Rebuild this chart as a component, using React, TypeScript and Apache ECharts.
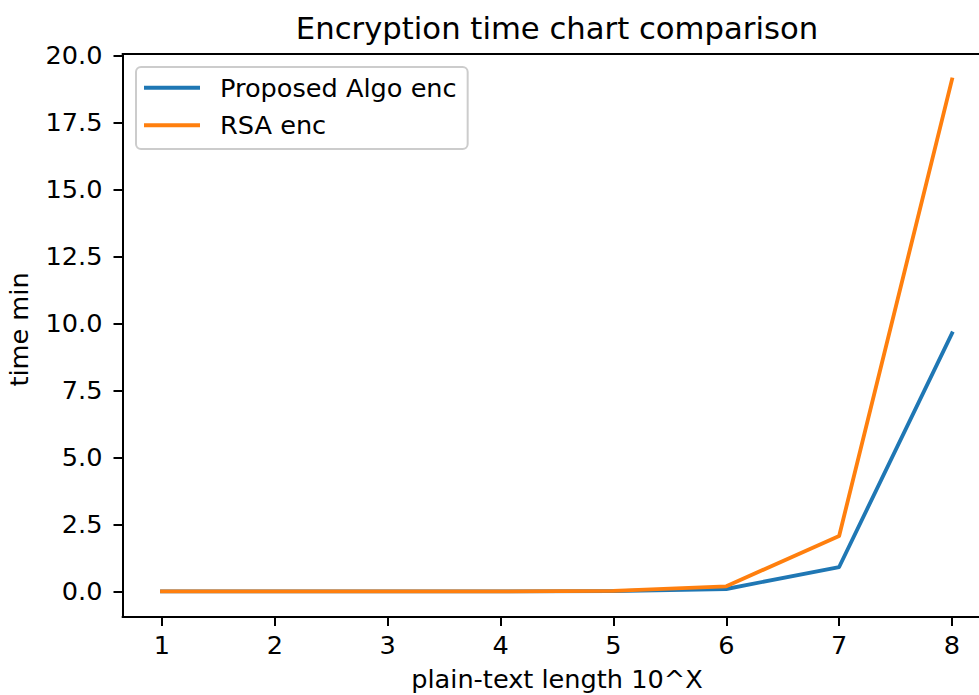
import { useEffect, useRef } from 'react';
import * as echarts from 'echarts';

const lengthExponents = [1, 2, 3, 4, 5, 6, 7, 8];
const proposedAlgoEnc = [0, 0, 0, 0.001, 0.01, 0.09, 0.91, 9.63];
const rsaEnc = [0, 0, 0, 0.002, 0.02, 0.19, 2.07, 19.1];
const xTicks = [1, 2, 3, 4, 5, 6, 7, 8];
const yTicks = [0, 2.5, 5, 7.5, 10, 12.5, 15, 17.5, 20];

const FONT = "'DejaVu Sans', sans-serif";
const FS = 25.6;

export default function App() {
  const ref = useRef<HTMLDivElement>(null);
  useEffect(() => {
    if (!ref.current) return;
    const chart = echarts.init(ref.current, undefined, { renderer: 'svg' });
    const gridLeft = 122.5;
    const gridTop = 54;
    const gridWidth = 869;
    const gridHeight = 563;
    chart.setOption({
      animation: false,
      backgroundColor: '#ffffff',
      textStyle: { fontFamily: FONT },
      grid: {
        left: gridLeft,
        top: gridTop,
        width: gridWidth,
        height: gridHeight,
        containLabel: false,
        outerBoundsMode: 'none',
      },
      graphic: [
        {
          type: 'text',
          x: gridLeft + gridWidth / 2,
          y: 28.7,
          style: {
            text: 'Encryption time chart comparison',
            fontSize: 30.7,
            fontFamily: FONT,
            fill: '#000',
            textAlign: 'center',
            textVerticalAlign: 'middle',
          },
        },
      ],
      legend: {
        orient: 'vertical',
        left: 136,
        top: 67,
        padding: [5.7, 11, 8.7, 8],
        itemWidth: 56,
        itemHeight: 4,
        itemGap: 7.6,
        icon: 'rect',
        backgroundColor: 'rgba(255,255,255,0.8)',
        borderColor: '#cccccc',
        borderWidth: 2,
        borderRadius: 5,
        textStyle: {
          fontSize: FS,
          fontFamily: FONT,
          color: '#000',
          lineHeight: 30,
          padding: [0, 0, 0, 15],
        },
        data: ['Proposed Algo enc', 'RSA enc'],
      },
      xAxis: [
        {
          type: 'value',
          min: 0.65,
          max: 8.35,
          name: 'plain-text length 10^X',
          nameLocation: 'middle',
          nameGap: 49,
          nameTextStyle: { fontSize: FS, fontFamily: FONT, color: '#000' },
          axisLine: { show: true, onZero: false, lineStyle: { color: '#000', width: 2 } },
          axisTick: { show: true, length: 9, lineStyle: { color: '#000', width: 2 }, customValues: xTicks },
          axisLabel: {
            fontSize: FS,
            fontFamily: FONT,
            color: '#000',
            margin: 15,
            customValues: xTicks,
            formatter: (v: number) => String(v),
          },
          splitLine: { show: false },
        },
        {
          type: 'value',
          position: 'top',
          min: 0.65,
          max: 8.35,
          axisLine: { show: true, onZero: false, lineStyle: { color: '#000', width: 2 } },
          axisTick: { show: false },
          axisLabel: { show: false },
          splitLine: { show: false },
        },
      ],
      yAxis: {
        type: 'value',
        min: -0.955,
        max: 20.05,
        name: 'time min',
        nameLocation: 'middle',
        nameGap: 91,
        nameTextStyle: { fontSize: FS, fontFamily: FONT, color: '#000', padding: [0, 0, 0, 12] },
        axisLine: { show: true, onZero: false, lineStyle: { color: '#000', width: 2 } },
        axisTick: { show: true, length: 9, lineStyle: { color: '#000', width: 2 }, customValues: yTicks },
        axisLabel: {
          fontSize: FS,
          fontFamily: FONT,
          color: '#000',
          margin: 20,
          customValues: yTicks,
          formatter: (v: number) => v.toFixed(1),
        },
        splitLine: { show: false },
      },
      series: [
        {
          name: 'Proposed Algo enc',
          type: 'line',
          xAxisIndex: 0,
          data: lengthExponents.map((x, i) => [x, proposedAlgoEnc[i]]),
          symbol: 'none',
          color: '#1f77b4',
          lineStyle: { color: '#1f77b4', width: 3.84, cap: 'square', join: 'round' },
          z: 2,
        },
        {
          name: 'RSA enc',
          type: 'line',
          xAxisIndex: 0,
          data: lengthExponents.map((x, i) => [x, rsaEnc[i]]),
          symbol: 'none',
          color: '#ff7f0e',
          lineStyle: { color: '#ff7f0e', width: 3.84, cap: 'square', join: 'round' },
          z: 3,
        },
      ],
    });
    return () => chart.dispose();
  }, []);
  return (
    <div
      ref={ref}
      style={{ position: 'fixed', left: 0, top: 0, width: 979, height: 695, background: '#fff' }}
    />
  );
}
